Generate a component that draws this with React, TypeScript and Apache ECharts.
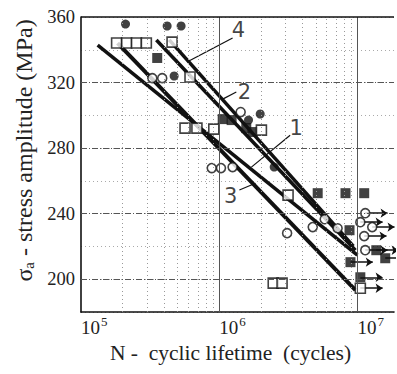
import React, { useEffect, useRef } from "react";
import * as echarts from "echarts";

// ---- data (cycles, MPa) ----
const filledCircles: number[][] = [
  [2.1e5, 355.7], [4.2e5, 354.5], [5.3e5, 354.5], [4.72e5, 324.0],
  [1.63e6, 297.1], [1.98e6, 300.8], [2.5e6, 268.4],
];
const openCircles: number[][] = [
  [3.28e5, 322.7], [3.87e5, 322.7], [1.43e6, 302.0], [8.83e5, 267.8],
  [1.03e6, 267.8], [1.25e6, 268.4], [3.1e6, 228.1], [4.75e6, 231.8],
  [5.8e6, 236.6], [7.19e6, 231.1],
];
const openCirclesRunout: number[][] = [
  [1.14e7, 240.3], [1.05e7, 234.8], [1.28e7, 231.8], [1.12e7, 226.3], [1.14e7, 217.7],
];
const filledSquares: number[][] = [
  [3.56e5, 335.0], [1.06e6, 297.7], [1.23e6, 297.1], [1.57e6, 292.2],
  [1.74e6, 289.8], [5.16e6, 252.5], [8.2e6, 252.5], [1.12e7, 252.5], [8.77e6, 229.9],
];
const filledSquaresRunout: number[][] = [
  [1.37e7, 217.7], [1.59e7, 212.8], [8.91e6, 210.4], [1.05e7, 201.2],
];
const openSquares: number[][] = [
  [1.81e5, 344.1], [2.14e5, 344.1], [2.52e5, 344.1], [2.97e5, 344.1],
  [4.56e5, 344.7], [6.15e5, 323.4], [5.66e5, 292.2], [6.9e5, 292.2],
  [9.14e5, 291.6], [2.02e6, 291.0], [3.15e6, 251.3], [2.46e6, 197.6], [2.85e6, 197.6],
];
const openSquaresRunout: number[][] = [[1.05e7, 194.5]];

// fitted S-N lines (start, end)
const line1: number[][] = [[1.32e5, 342.9], [1.0e7, 214.7]];
const line2: number[][] = [[3.51e5, 346.0], [9.68e6, 217.7]];
const line3: number[][] = [[1.84e5, 344.1], [9.68e6, 193.3]];
const line4: number[][] = [[4.35e5, 346.0], [9.35e6, 220.2]];

// curve labels and leaders
const curveLabels = ["4", "2", "1", "3"];
const labelAt: number[][] = [[1.38e6, 352.1], [1.52e6, 314.2], [3.6e6, 292.2], [1.21e6, 250.7]];
const leaderFrom: number[][] = [[1.25e6, 347.2], [1.33e6, 314.2], [3.26e6, 287.9], [1.4e6, 254.4]];
const leaderTo: number[][] = [[5.85e5, 332.5], [1.06e6, 309.9], [1.71e6, 268.4], [1.83e6, 258.6]];

const yTicks = [200, 240, 280, 320];
const majorX = [1e6, 1e7];
const minorX = [2e5, 3e5, 4e5, 5e5, 6e5, 7e5, 8e5, 9e5, 2e6, 3e6, 4e6, 5e6, 6e6, 7e6, 8e6, 9e6];
const X_MIN = 1e5;
const X_MAX = 1.84e7;

const SERIF = "Liberation Serif";

export default function App() {
  const ref = useRef<HTMLDivElement>(null);
  useEffect(() => {
    if (!ref.current) return;
    const chart = echarts.init(ref.current, undefined, { renderer: "svg" });
    const ARROW = 1.45;
    const runouts = [...openCirclesRunout, ...filledSquaresRunout, ...openSquaresRunout];
    const lineSeries = (d: number[][], w: number) => ({
      type: "line",
      data: d,
      showSymbol: false,
      symbol: "none",
      lineStyle: { color: "#111", width: w },
      z: 3,
    });
    const openStyle = { color: "#fff", borderColor: "#111", borderWidth: 1.6 };
    const filledStyle = { color: "#111" };
    const option: any = {
      animation: false,
      backgroundColor: "#fff",
      grid: { left: 81, top: 17, right: 0, bottom: 62 },
      xAxis: {
        type: "log",
        logBase: 10,
        min: X_MIN,
        max: X_MAX,
        axisLine: { show: true, onZero: false, lineStyle: { color: "#111", width: 1.6 } },
        axisTick: { show: false },
        splitLine: { show: false },
        axisLabel: {
          align: "left",
          margin: 3,
          formatter: (v: number) => {
            const l = Math.log10(v);
            const e = Math.round(l);
            if (Math.abs(l - e) > 1e-6) return "";
            return `{b|10}{sup|${e}}`;
          },
          rich: {
            b: { fontFamily: SERIF, fontSize: 19, color: "#222", lineHeight: 22, verticalAlign: "bottom" },
            sup: { fontFamily: SERIF, fontSize: 13, color: "#222", verticalAlign: "top", padding: [0, 0, 0, 1] },
          },
        },
        name: "N -  cyclic lifetime  (cycles)",
        nameLocation: "middle",
        nameGap: 25,
        nameTextStyle: { fontFamily: SERIF, fontSize: 21.5, color: "#222", padding: [0, 14, 0, 0] },
      },
      yAxis: {
        type: "value",
        min: 180,
        max: 360,
        interval: 20,
        axisLine: { show: true, lineStyle: { color: "#111", width: 1.6 } },
        axisTick: { show: false },
        splitLine: { show: true, lineStyle: { color: "#aaa", width: 1, type: [1, 3] } },
        axisLabel: {
          fontFamily: SERIF,
          fontSize: 18.5,
          color: "#222",
          margin: 6,
          formatter: (v: number) => (v % 40 === 0 ? String(v) : ""),
        },
        name: "{s|σ}{sub|a}{s| - stress amplitude (MPa)}",
        nameLocation: "middle",
        nameRotate: 90,
        nameGap: 40,
        nameTextStyle: {
          fontFamily: SERIF,
          fontSize: 24,
          color: "#222",
          padding: [0, 0, 0, 28],
          rich: {
            s: { fontFamily: SERIF, fontSize: 24, color: "#222" },
            sub: { fontFamily: SERIF, fontSize: 15, color: "#222", verticalAlign: "bottom", padding: [9, 0, 0, 0] },
          },
        },
      },
      series: [
        {
          type: "line",
          data: [],
          silent: true,
          markLine: {
            silent: true,
            symbol: ["none", "none"],
            label: { show: false },
            data: [
              ...minorX.map((x) => ({ xAxis: x, lineStyle: { color: "#999", width: 1, type: [1, 3] } })),
              ...majorX.map((x) => ({ xAxis: x, lineStyle: { color: "#555", width: 1, type: "solid" } })),
              ...yTicks.map((y) => ({ yAxis: y, lineStyle: { color: "#555", width: 1, type: [6, 2, 1, 2] } })),
              { yAxis: 360, lineStyle: { color: "#111", width: 1.6, type: "solid" } },
            ],
          },
        },
        lineSeries(line1, 3.5),
        lineSeries(line2, 3.5),
        lineSeries(line3, 4),
        lineSeries(line4, 3.5),
        {
          type: "lines",
          coordinateSystem: "cartesian2d",
          polyline: false,
          symbol: ["none", "arrow"],
          symbolSize: 7,
          lineStyle: { color: "#111", width: 1.5, opacity: 1 },
          data: runouts.map(([x, y]) => ({ coords: [[x, y], [x * ARROW, y]] })),
          z: 2,
        },
        {
          type: "lines",
          coordinateSystem: "cartesian2d",
          symbol: ["none", "none"],
          lineStyle: { color: "#111", width: 1.2, opacity: 1 },
          data: leaderFrom.map((p, i) => ({ coords: [p, leaderTo[i]] })),
          z: 2,
        },
        {
          type: "scatter",
          symbolSize: 0,
          data: curveLabels.map((n, i) => ({ name: n, value: labelAt[i] })),
          label: {
            show: true,
            position: "inside",
            formatter: "{b}",
            fontFamily: "DejaVu Sans",
            fontSize: 21,
            color: "#111",
          },
          z: 5,
        },
        { type: "scatter", symbol: "circle", symbolSize: 9, data: filledCircles, itemStyle: filledStyle, z: 4 },
        { type: "scatter", symbol: "circle", symbolSize: 9, data: [...openCircles, ...openCirclesRunout], itemStyle: openStyle, z: 4 },
        { type: "scatter", symbol: "rect", symbolSize: 10, data: [...filledSquares, ...filledSquaresRunout], itemStyle: filledStyle, z: 4 },
        { type: "scatter", symbol: "rect", symbolSize: 10, data: [...openSquares, ...openSquaresRunout], itemStyle: openStyle, z: 4 },
      ],
    };
    chart.setOption(option);
    return () => chart.dispose();
  }, []);
  return (
    <div
      ref={ref}
      style={{ position: "absolute", left: 0, top: 0, width: 397, height: 374 }}
    />
  );
}
